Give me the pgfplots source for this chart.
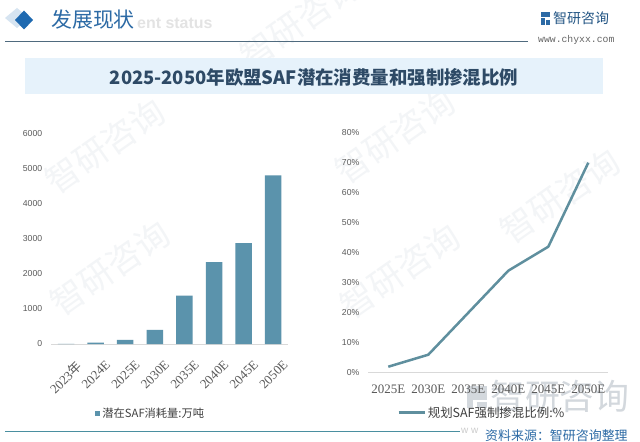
\documentclass[border=0pt]{standalone}
\usepackage{fontspec}
\setmainfont{Liberation Sans}
\newfontfamily\cjk{Noto Sans CJK SC}
\newfontfamily\serifn{Liberation Serif}
\newfontfamily\monof{Liberation Mono}
\usepackage{pgfplots}
\pgfplotsset{compat=1.18}
\definecolor{barc}{HTML}{5B93AC}
\definecolor{linec}{HTML}{5F8F9E}
\definecolor{titlebg}{HTML}{E6F2FB}
\definecolor{titlefg}{HTML}{2E4A66}
\definecolor{headblue}{HTML}{2C6AA5}
\definecolor{diam}{HTML}{1E69B0}
\definecolor{tickg}{HTML}{5A5A5A}
\definecolor{wm}{HTML}{F3F5F7}
\definecolor{wmd}{HTML}{D3D8DD}
\definecolor{headline}{HTML}{4F6A7E}
\definecolor{botline}{HTML}{4A8FA0}
\definecolor{axl}{HTML}{D9D9D9}
\definecolor{legt}{HTML}{404040}
\begin{document}
\begin{tikzpicture}
\begin{scope}[x=1bp,y=1bp]
\path[use as bounding box] (0,0) rectangle (640,436);
\fill[white] (0,0) rectangle (640,436);
% faint watermarks
\foreach \px/\py in {110/168, 105/290, 395/300, 400/165, 300/415, 560/240}
  \node[rotate=35, text=wm, font=\cjk\fontsize{34}{34}\selectfont] at (\px,\py) {智研咨询};
% big bottom-right watermark
\fill[wmd] (467,36) rectangle (487,50);
\fill[wmd] (467,28) rectangle (473,36);
\fill[wmd] (477,28) rectangle (487,34);
\node[anchor=west, inner sep=0, text=wmd, font=\cjk\fontsize{35}{35}\selectfont] at (490,40) {智研咨询};
% header
\fill[diam!18] (5,418) -- (17,428) -- (29,418) -- (17,408) -- cycle;
\fill[diam] (24,425.5) -- (33,416) -- (24,406.5) -- (15,416) -- cycle;
\node[anchor=west, inner sep=0, text=gray!22, font=\bfseries\fontsize{16}{16}\selectfont] at (137,413) {ent status};
\node[anchor=west, inner sep=0, text=headblue, font=\cjk\fontsize{21}{21}\selectfont] at (51,416) {发展现状};
\draw[headline, line width=1.1] (5,394.5) -- (528,394.5);
% logo
\fill[headblue] (541,418.5) rectangle (549.5,423.5);
\fill[headblue] (541,411) rectangle (544.5,417.5);
\fill[headblue] (545.5,411) rectangle (549.5,415.5);
\node[anchor=west, inner sep=0, text=headblue!80!black, font=\cjk\fontsize{14}{14}\selectfont] at (553,418) {智研咨询};
\node[anchor=west, inner sep=0, text=gray!80!black, font=\monof\fontsize{9.8}{10}\selectfont] at (538,396) {www.chyxx.com};
% title band
\fill[titlebg] (25,342) rectangle (603,377.5);
\node[inner sep=0, text=titlefg, font=\cjk\bfseries\fontsize{18.5}{18.5}\selectfont] at (314,359) {2025-2050年欧盟SAF潜在消费量和强制掺混比例};
\end{scope}
% left chart
\begin{axis}[
  at={(51.2bp,92bp)}, anchor=south west, scale only axis,
  width=236.8bp, height=210.7bp,
  xmin=-0.5, xmax=7.5, ymin=0, ymax=6000,
  axis x line=bottom, axis y line=left, axis line style={-},
  x axis line style={draw=axl, line width=0.8},
  y axis line style={draw=none},
  major tick length=0,
  ytick={0,1000,...,6000},
  xtick={0,...,7},
  xticklabels={2023{\cjk 年},2024E,2025E,2030E,2035E,2040E,2045E,2050E},
  /pgf/number format/assume math mode=true,
  /pgf/number format/1000 sep={},
  yticklabel style={font=\fontsize{8.7}{9}\selectfont, text=tickg, xshift=-5.5bp},
  xticklabel style={font=\serifn\fontsize{13}{13}\selectfont, text=tickg, rotate=45, anchor=north east, xshift=-1bp, yshift=-14bp},
  legend style={at={(axis description cs:0.186,-0.332)}, anchor=west, draw=none, fill=none,
    font=\cjk\fontsize{11.3}{12}\selectfont, text=legt, inner sep=0pt},
  legend image code/.code={\fill[barc] (0,-2.5bp) rectangle (5bp,2.5bp);},
]
\addplot[ybar, bar width=16.5bp, fill=barc, draw=none] coordinates {
  (0,5) (1,40) (2,115) (3,400) (4,1380) (5,2330) (6,2870) (7,4800)};
\addlegendentry{潜在SAF消耗量:万吨}
\end{axis}
% right chart
\begin{axis}[
  at={(368.3bp,63.3bp)}, anchor=south west, scale only axis,
  width=240bp, height=240bp,
  xmin=-0.5, xmax=5.5, ymin=0, ymax=80,
  axis x line=bottom, axis y line=left, axis line style={-},
  x axis line style={draw=axl, line width=0.8},
  y axis line style={draw=none},
  major tick length=0,
  ytick={0,10,...,80},
  yticklabel={\pgfmathprintnumber{\tick}\%},
  xtick={0,...,5},
  xticklabels={2025E,2030E,2035E,2040E,2045E,2050E},
  /pgf/number format/assume math mode=true,
  yticklabel style={font=\fontsize{8.7}{9}\selectfont, text=tickg, xshift=-5.5bp},
  xticklabel style={font=\serifn\fontsize{13}{13}\selectfont, text=tickg, yshift=-9bp},
  legend style={at={(axis description cs:0.12,-0.1667)}, anchor=west, draw=none, fill=none,
    font=\cjk\fontsize{12.5}{13}\selectfont, text=legt, inner sep=0pt},
  legend image code/.code={\draw[linec, line width=2.5bp] (0,0) -- (26bp,0);},
]
\addplot[linec, line width=2.5bp, line join=round] coordinates {
  (0,2) (1,6) (2,20) (3,34) (4,42) (5,70)};
\addlegendentry{规划SAF强制掺混比例:\%}
\end{axis}
% bottom
\begin{scope}[x=1bp,y=1bp]
\draw[botline, line width=1.2] (5,4.3) -- (460,4.3);
\node[anchor=west, inner sep=0, text=gray!40, font=\fontsize{10}{10}\selectfont] at (461,5) {w w};
\node[anchor=west, inner sep=0, text=headblue, font=\cjk\fontsize{13}{13}\selectfont] at (485,0.5) {资料来源：智研咨询整理};
\end{scope}
\end{tikzpicture}
\end{document}
